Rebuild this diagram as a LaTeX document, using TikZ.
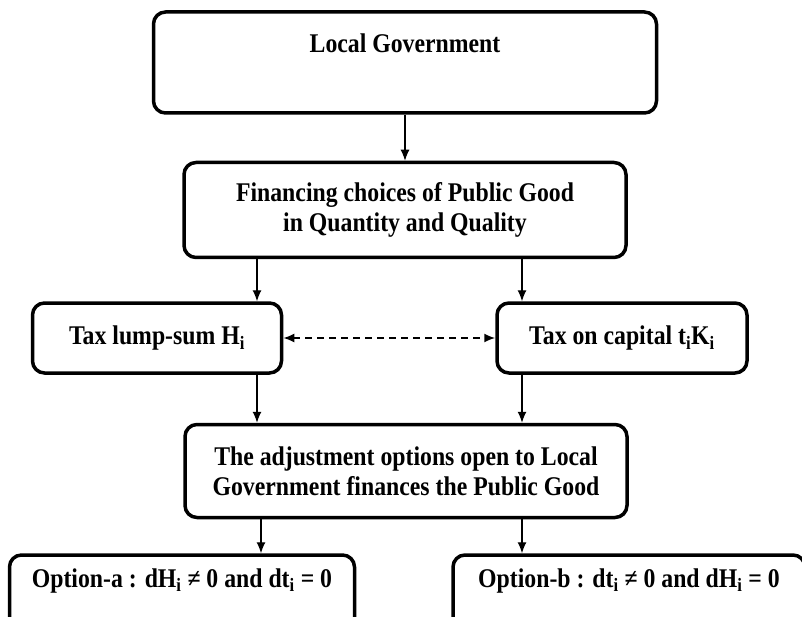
\documentclass[tikz,border=0pt]{standalone}
\usepackage{fontspec}
\setmainfont{Liberation Serif}[FakeStretch=0.88]
\usetikzlibrary{arrows.meta}
\begin{document}
\begin{tikzpicture}[x=1pt,y=-1pt,
    box/.style={draw, line width=3.5pt, rounded corners=12pt, align=center,
      font=\fontsize{27}{30}\selectfont\bfseries},
    conn/.style={-{Latex[length=11pt,width=9pt]}, line width=1.2pt}]
  \useasboundingbox (0,0) rectangle (802,617);

  % positions of the vertical connectors
  \coordinate (xl) at (257,0);
  \coordinate (xr) at (522,0);
  \coordinate (xa) at (261,0);

  \node[box, anchor=base, minimum width=503, inner ysep=0, text height=41, text depth=60] at (405,53) (gov) {Local Government};
  \node[box, minimum width=442, minimum height=95] at (405,210) (fin) {Financing choices of Public Good\\in Quantity and Quality};
  \node[box, minimum width=249, minimum height=70] at (157,338) (lump) {Tax lump-sum H\textsubscript{i}};
  \node[box, minimum width=250, minimum height=70] at (622,338) (cap) {Tax on capital t\textsubscript{i}K\textsubscript{i}};
  \node[box, minimum width=442, minimum height=93] at (406,471) (adj) {The adjustment options open to Local\\Government finances the Public Good};
  \node[box, anchor=base, minimum width=345, inner ysep=0, text height=32, text depth=60] at (182,587) (opta) {Option-a : dH\textsubscript{i} ≠ 0 and dt\textsubscript{i} = 0};
  \node[box, anchor=base, minimum width=352, inner ysep=0, text height=32, text depth=60] at (629,587) (optb) {Option-b : dt\textsubscript{i} ≠ 0 and dH\textsubscript{i} = 0};

  \draw[conn] (gov) -- (fin);
  \draw[conn] (fin.south -| xl) -- (lump.north -| xl);
  \draw[conn] (fin.south -| xr) -- (cap.north -| xr);
  \draw[conn, {Latex[length=11pt,width=9pt]}-{Latex[length=11pt,width=9pt]}, line width=1.8pt, dash pattern=on 7pt off 5pt] (lump) -- (cap);
  \draw[conn] (lump.south -| xl) -- (adj.north -| xl);
  \draw[conn] (cap.south -| xr) -- (adj.north -| xr);
  \draw[conn] (adj.south -| xa) -- (opta.north -| xa);
  \draw[conn] (adj.south -| xr) -- (optb.north -| xr);
\end{tikzpicture}
\end{document}
